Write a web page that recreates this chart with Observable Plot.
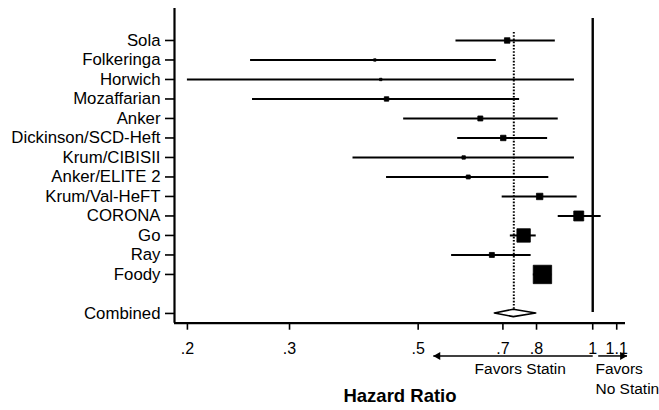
<!DOCTYPE html>
<html>
<head>
<meta charset="utf-8">
<script src="https://cdn.jsdelivr.net/npm/d3@7"></script>
<script src="https://cdn.jsdelivr.net/npm/@observablehq/plot@0.6"></script>
<style>
  html, body { margin: 0; padding: 0; background: #fff; }
</style>
</head>
<body>
<div id="chart"></div>
<script>
const studies = ["Sola", "Folkeringa", "Horwich", "Mozaffarian", "Anker", "Dickinson/SCD-Heft", "Krum/CIBISII", "Anker/ELITE 2", "Krum/Val-HeFT", "CORONA", "Go", "Ray", "Foody"];
const hazardRatio = [0.712, 0.421, 0.431, 0.441, 0.640, 0.701, 0.599, 0.610, 0.810, 0.946, 0.760, 0.670, 0.819];
const lowerCI     = [0.581, 0.257, 0.200, 0.259, 0.472, 0.585, 0.386, 0.441, 0.698, 0.872, 0.721, 0.571, 0.790];
const upperCI     = [0.862, 0.682, 0.930, 0.748, 0.872, 0.836, 0.930, 0.840, 0.940, 1.034, 0.799, 0.783, 0.850];
const weightPct   = [3.6, 0.7, 0.7, 2.4, 3.0, 3.6, 1.4, 1.9, 5.0, 12.0, 21.8, 3.0, 40.9];
const combinedLabel = "Combined";
const combinedHR = 0.731;
const combinedLower = 0.678;
const combinedUpper = 0.799;
const xTicks = [0.2, 0.3, 0.5, 0.7, 0.8, 1, 1.1];
const favorsStatin = "Favors Statin";
const favorsNoStatin = ["Favors", "No Statin"];
const axisTitle = "Hazard Ratio";

const combinedRow = studies.length + 1; // one blank row before "Combined"
const rows = studies.map((s, i) => ({i, name: s, hr: hazardRatio[i], lo: lowerCI[i], hi: upperCI[i], w: weightPct[i]}));
const yTicks = [...studies.map((_, i) => i), combinedRow];
const yLabel = i => i === combinedRow ? combinedLabel : studies[i];

const xDomain = [0.19, 1.139];
const yDomain = [14.5, -1.64];
const arrowRow = 16.18;

const diamond = [
  {x: combinedLower, y1: combinedRow, y2: combinedRow},
  {x: combinedHR, y1: combinedRow - 0.19, y2: combinedRow + 0.19},
  {x: combinedUpper, y1: combinedRow, y2: combinedRow}
];
const arrows = [
  {x1: 1, x2: 0.531, rot: -90, dx: 4.6},
  {x1: 1.022, x2: 1.146, rot: 90, dx: -4.6}
];

const fmt = d => d < 1 ? String(d).replace(/^0/, "") : String(d);
const font = "'Liberation Sans', Arial, Helvetica, sans-serif";

const chart = Plot.plot({
  width: 659,
  height: 410,
  marginLeft: 174,
  marginRight: 34,
  marginTop: 8,
  marginBottom: 87.3,
  style: {fontFamily: font, fontSize: "16px", background: "#fff", color: "#000"},
  x: {type: "log", domain: xDomain},
  y: {type: "linear", domain: yDomain},
  r: {type: "sqrt", domain: [0, 41], range: [0, 10.4]},
  marks: [
    Plot.axisY({ticks: yTicks, tickFormat: yLabel, tickSize: 9, tickPadding: 5, fontSize: 16.8, strokeWidth: 1.6, label: null, fill: "#000"}),
    Plot.axisX({ticks: xTicks, tickFormat: fmt, tickSize: 7, tickPadding: 12, fontSize: 16, strokeWidth: 1.6, label: null, fill: "#000"}),
    Plot.ruleX([xDomain[0]], {strokeWidth: 2.2}),
    Plot.ruleY([yDomain[0]], {strokeWidth: 2.2}),
    Plot.ruleX([1], {y1: -1.13, y2: combinedRow - 0.05, strokeWidth: 2.4}),
    Plot.ruleX([combinedHR], {y1: -0.41, y2: combinedRow - 0.19, strokeWidth: 2, strokeDasharray: "1.6,1.6"}),
    Plot.ruleY(rows, {y: "i", x1: "lo", x2: "hi", strokeWidth: 2}),
    Plot.dot(rows, {x: "hr", y: "i", r: "w", symbol: "square", fill: "#000", stroke: "#000", strokeWidth: 0.8, strokeLinejoin: "round"}),
    Plot.areaY(diamond, {x: "x", y1: "y1", y2: "y2", fill: "#fff", stroke: "#000", strokeWidth: 1.6}),
    Plot.link(arrows, {x1: "x1", x2: "x2", y1: () => arrowRow, y2: () => arrowRow, strokeWidth: 1.5}),
    ...arrows.map(a => Plot.dot([a], {x: "x2", y: () => arrowRow, symbol: "triangle", r: 3, fill: "#000", stroke: "none", rotate: a.rot, dx: a.dx})),
    Plot.text([{x: 0.75, y: 16.85, t: favorsStatin}], {x: "x", y: "y", text: "t", fontSize: 15.5, fill: "#000"}),
    Plot.text([{x: 1.011, y: 16.85, t: favorsNoStatin[0]}, {x: 1.011, y: 17.87, t: favorsNoStatin[1]}], {x: "x", y: "y", text: "t", textAnchor: "start", fontSize: 15.5, fill: "#000"}),
    Plot.text([axisTitle], {frameAnchor: "bottom", dy: 79, fontSize: 18.5, fontWeight: "bold", fill: "#000"})
  ]
});
d3.select(chart).selectAll('g[aria-label="x-axis tick label"]').attr("font-size", 16);
d3.select(chart).selectAll('g[aria-label="y-axis tick label"]').attr("font-size", 16.8);
document.getElementById("chart").appendChild(chart);
</script>
</body>
</html>
